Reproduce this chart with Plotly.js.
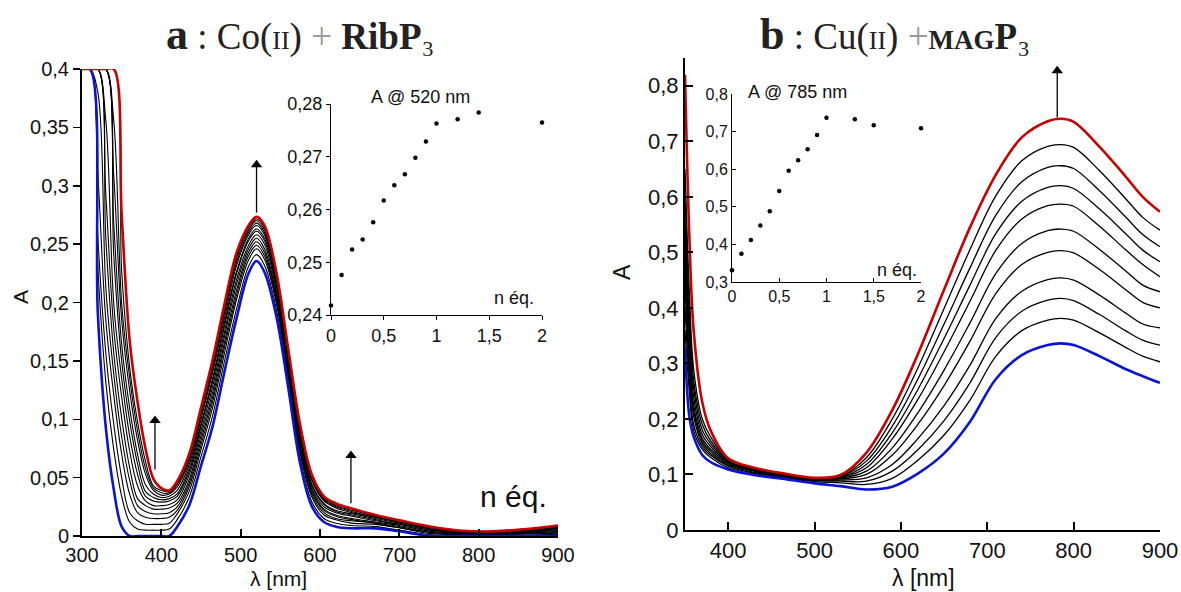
<!DOCTYPE html>
<html>
<head>
<meta charset="utf-8">
<script src="https://cdn.plot.ly/plotly-3.0.1.min.js"></script>
<style>html,body{margin:0;padding:0;background:#fff}</style>
</head>
<body>
<div id="chart" style="width:1181px;height:592px"></div>
<script>
// ---------- Panel a : Co(II) + RibP3, spectra (A vs λ) ----------
const wlA = [300, 310, 320, 330, 340, 350, 360, 370, 380, 390, 400, 410, 420, 435, 450, 465, 480, 495, 510, 520, 530, 545, 560, 575, 590, 605, 620, 640, 670, 700, 740, 780, 820, 860, 900];
const coA_n00 = [0.4, 0.4, 0.19, 0.093, 0.04, 0.008, 0, 0, 0, 0, 0, 0, 0.008, 0.026, 0.06, 0.095, 0.142, 0.187, 0.225, 0.2355, 0.226, 0.188, 0.127, 0.062, 0.025, 0.012, 0.008, 0.0066, 0.0065, 0.004, 0, 0, 0, 0, 0];
const coA_n01 = [0.4, 0.4, 0.23, 0.132, 0.074, 0.034, 0.012, 0.006, 0.005, 0.005, 0.005, 0.006, 0.014, 0.033, 0.068, 0.104, 0.151, 0.195, 0.231, 0.241, 0.232, 0.194, 0.132, 0.067, 0.029, 0.015, 0.011, 0.009, 0.008, 0.005, 0.001, 0.0007, 0.0006, 0.0009, 0.0014];
const coA_n02 = [0.4, 0.4, 0.255, 0.157, 0.096, 0.05, 0.02, 0.013, 0.010, 0.010, 0.010, 0.011, 0.019, 0.038, 0.074, 0.111, 0.158, 0.203, 0.2365, 0.246, 0.237, 0.199, 0.136, 0.071, 0.033, 0.018, 0.014, 0.011, 0.010, 0.007, 0.002, 0.0013, 0.0011, 0.0017, 0.0025];
const coA_n03 = [0.4, 0.4, 0.309, 0.185, 0.121, 0.070, 0.036, 0.020, 0.016, 0.015, 0.015, 0.016, 0.022, 0.042, 0.078, 0.116, 0.163, 0.207, 0.240, 0.249, 0.240, 0.202, 0.139, 0.074, 0.035, 0.020, 0.015, 0.013, 0.011, 0.007, 0.003, 0.0016, 0.0014, 0.0022, 0.0032];
const coA_n04 = [0.4, 0.4, 0.38, 0.213, 0.139, 0.085, 0.048, 0.026, 0.021, 0.019, 0.019, 0.020, 0.025, 0.045, 0.082, 0.120, 0.167, 0.211, 0.243, 0.252, 0.243, 0.204, 0.141, 0.076, 0.037, 0.022, 0.017, 0.014, 0.011, 0.008, 0.003, 0.0019, 0.0017, 0.0026, 0.0039];
const coA_n05 = [0.4, 0.4, 0.4, 0.255, 0.157, 0.101, 0.059, 0.032, 0.026, 0.023, 0.023, 0.024, 0.028, 0.048, 0.086, 0.124, 0.172, 0.216, 0.246, 0.255, 0.246, 0.207, 0.144, 0.079, 0.039, 0.023, 0.018, 0.015, 0.012, 0.009, 0.004, 0.0023, 0.002, 0.0031, 0.0046];
const coA_n06 = [0.4, 0.4, 0.4, 0.293, 0.178, 0.119, 0.073, 0.043, 0.030, 0.026, 0.026, 0.027, 0.031, 0.052, 0.090, 0.129, 0.176, 0.220, 0.249, 0.258, 0.250, 0.210, 0.147, 0.082, 0.041, 0.025, 0.020, 0.017, 0.013, 0.010, 0.005, 0.0027, 0.0024, 0.0035, 0.0053];
const coA_n07 = [0.4, 0.4, 0.4, 0.356, 0.199, 0.135, 0.086, 0.053, 0.034, 0.030, 0.029, 0.030, 0.034, 0.055, 0.094, 0.133, 0.181, 0.225, 0.253, 0.261, 0.253, 0.214, 0.149, 0.084, 0.043, 0.027, 0.021, 0.018, 0.014, 0.010, 0.005, 0.003, 0.0027, 0.004, 0.006];
const coA_n08 = [0.4, 0.4, 0.4, 0.4, 0.241, 0.150, 0.099, 0.062, 0.038, 0.033, 0.031, 0.032, 0.036, 0.058, 0.096, 0.136, 0.184, 0.227, 0.255, 0.263, 0.255, 0.215, 0.151, 0.086, 0.044, 0.028, 0.022, 0.019, 0.015, 0.011, 0.006, 0.0032, 0.0029, 0.0043, 0.0065];
const coA_n09 = [0.4, 0.4, 0.4, 0.4, 0.268, 0.164, 0.110, 0.070, 0.044, 0.036, 0.033, 0.034, 0.039, 0.061, 0.100, 0.141, 0.188, 0.232, 0.258, 0.266, 0.258, 0.218, 0.153, 0.088, 0.047, 0.030, 0.024, 0.020, 0.016, 0.012, 0.006, 0.0036, 0.0032, 0.0048, 0.0072];
const coA_n10 = [0.4, 0.4, 0.4, 0.4, 0.309, 0.185, 0.125, 0.082, 0.053, 0.039, 0.035, 0.036, 0.042, 0.064, 0.103, 0.144, 0.192, 0.235, 0.260, 0.268, 0.260, 0.221, 0.155, 0.090, 0.048, 0.031, 0.025, 0.021, 0.016, 0.012, 0.007, 0.0039, 0.0034, 0.0052, 0.0077];
const coA_n12 = [0.4, 0.4, 0.4, 0.4, 0.356, 0.199, 0.136, 0.090, 0.058, 0.041, 0.037, 0.037, 0.044, 0.066, 0.106, 0.147, 0.195, 0.238, 0.262, 0.270, 0.262, 0.223, 0.157, 0.092, 0.050, 0.032, 0.026, 0.022, 0.017, 0.013, 0.007, 0.0041, 0.0036, 0.0055, 0.0082];
const coA_n14 = [0.4, 0.4, 0.4, 0.4, 0.4, 0.227, 0.145, 0.098, 0.064, 0.043, 0.039, 0.038, 0.045, 0.068, 0.108, 0.149, 0.197, 0.240, 0.264, 0.2715, 0.264, 0.224, 0.158, 0.093, 0.051, 0.033, 0.027, 0.023, 0.017, 0.013, 0.008, 0.0043, 0.0038, 0.0057, 0.0086];
const coA_n20 = [0.4, 0.4, 0.4, 0.4, 0.4, 0.275, 0.168, 0.115, 0.075, 0.049, 0.041, 0.039, 0.047, 0.070, 0.110, 0.152, 0.200, 0.243, 0.266, 0.2735, 0.266, 0.226, 0.160, 0.095, 0.052, 0.034, 0.028, 0.0235, 0.018, 0.0135, 0.008, 0.0045, 0.004, 0.006, 0.009];

// inset a : A @ 520 nm vs n éq.
const nEqA = [0, 0.1, 0.2, 0.3, 0.4, 0.5, 0.6, 0.7, 0.8, 0.9, 1.0, 1.2, 1.4, 2.0];
const abs520 = [0.2418, 0.2476, 0.2524, 0.2543, 0.2576, 0.2617, 0.2646, 0.2667, 0.2698, 0.2729, 0.2763, 0.2771, 0.2784, 0.2765];

// arrows of panel a (wavelength, from A, to A)
const arrowA_wl = [392, 520, 639];
const arrowA_from = [0.057, 0.277, 0.028];
const arrowA_to = [0.104, 0.323, 0.074];

// ---------- Panel b : Cu(II) + MAGP3 ----------
const wlB = [350, 355, 360, 370, 380, 400, 430, 460, 500, 530, 560, 590, 620, 650, 680, 710, 740, 770, 785, 800, 830, 860, 880, 900];
const cuB_n00 = [0.33, 0.205, 0.168, 0.135, 0.122, 0.109, 0.099, 0.093, 0.084, 0.079, 0.073, 0.078, 0.102, 0.138, 0.195, 0.272, 0.315, 0.333, 0.336, 0.333, 0.313, 0.290, 0.277, 0.265];
const cuB_n01 = [0.36, 0.25, 0.18, 0.145, 0.130, 0.112, 0.100, 0.094, 0.087, 0.085, 0.082, 0.093, 0.126, 0.171, 0.234, 0.313, 0.359, 0.378, 0.381, 0.378, 0.355, 0.329, 0.313, 0.303];
const cuB_n02 = [0.40, 0.27, 0.19, 0.150, 0.134, 0.115, 0.102, 0.095, 0.089, 0.088, 0.088, 0.106, 0.145, 0.197, 0.265, 0.347, 0.394, 0.414, 0.417, 0.413, 0.388, 0.359, 0.342, 0.333];
const cuB_n03 = [0.44, 0.29, 0.205, 0.155, 0.137, 0.117, 0.104, 0.096, 0.090, 0.090, 0.094, 0.118, 0.165, 0.224, 0.297, 0.381, 0.430, 0.451, 0.454, 0.450, 0.423, 0.391, 0.371, 0.364];
const cuB_n04 = [0.47, 0.31, 0.215, 0.160, 0.141, 0.119, 0.106, 0.097, 0.091, 0.092, 0.100, 0.135, 0.191, 0.260, 0.340, 0.426, 0.478, 0.500, 0.503, 0.499, 0.469, 0.433, 0.410, 0.400];
const cuB_n05 = [0.50, 0.33, 0.225, 0.165, 0.145, 0.121, 0.107, 0.098, 0.092, 0.093, 0.106, 0.148, 0.212, 0.288, 0.373, 0.462, 0.516, 0.539, 0.542, 0.538, 0.505, 0.467, 0.441, 0.429];
const cuB_n06 = [0.53, 0.35, 0.24, 0.172, 0.150, 0.122, 0.108, 0.099, 0.092, 0.094, 0.112, 0.164, 0.236, 0.321, 0.412, 0.504, 0.560, 0.584, 0.587, 0.583, 0.547, 0.505, 0.478, 0.456];
const cuB_n07 = [0.56, 0.37, 0.255, 0.180, 0.155, 0.123, 0.109, 0.100, 0.093, 0.095, 0.118, 0.175, 0.254, 0.345, 0.441, 0.534, 0.592, 0.617, 0.620, 0.615, 0.578, 0.534, 0.504, 0.483];
const cuB_n08 = [0.60, 0.40, 0.27, 0.190, 0.160, 0.125, 0.110, 0.101, 0.093, 0.096, 0.124, 0.187, 0.273, 0.371, 0.472, 0.567, 0.627, 0.653, 0.656, 0.651, 0.611, 0.564, 0.532, 0.510];
const cuB_n09 = [0.65, 0.43, 0.29, 0.200, 0.167, 0.127, 0.111, 0.102, 0.094, 0.097, 0.130, 0.200, 0.293, 0.399, 0.505, 0.602, 0.665, 0.691, 0.694, 0.689, 0.647, 0.597, 0.563, 0.540];
const cuB_n10 = [0.82, 0.53, 0.36, 0.23, 0.178, 0.129, 0.112, 0.103, 0.094, 0.099, 0.139, 0.216, 0.318, 0.433, 0.545, 0.640, 0.707, 0.736, 0.7405, 0.735, 0.69, 0.637, 0.60, 0.573];

// inset b : A @ 785 nm vs n éq.
const nEqB = [0, 0.1, 0.2, 0.3, 0.4, 0.5, 0.6, 0.7, 0.8, 0.9, 1.0, 1.3, 1.5, 2.0];
const abs785 = [0.331, 0.375, 0.412, 0.450, 0.488, 0.542, 0.596, 0.624, 0.653, 0.691, 0.737, 0.733, 0.717, 0.709];

// arrow of panel b
const arrowB_wl = [781];
const arrowB_from = [0.743];
const arrowB_to = [0.838];

// ---------- styling ----------
const BLUE = '#0a14d2', RED = '#c80000', BLACK = '#000000';
const FONT = 'Liberation Sans, Arial, sans-serif';
const SERIF = 'Liberation Serif, DejaVu Serif, serif';
const W = 1181, H = 592;
const px = v => v / W, py = v => 1 - v / H;

const traces = [];
function spec(x, y, xa, ya, color, width, name) {
  traces.push({type: 'scatter', mode: 'lines', x: x, y: y, xaxis: xa, yaxis: ya, name: name,
    line: {color: color, width: width, shape: 'spline', smoothing: 1}, hoverinfo: 'x+y'});
}
const blackA = [coA_n01, coA_n02, coA_n03, coA_n04, coA_n05, coA_n06, coA_n07, coA_n08, coA_n09, coA_n10, coA_n12, coA_n14];
const blackALabels = ['0.1', '0.2', '0.3', '0.4', '0.5', '0.6', '0.7', '0.8', '0.9', '1.0', '1.2', '1.4'];
blackA.forEach((s, i) => spec(wlA, s, 'x', 'y', BLACK, 1.1, 'a n=' + blackALabels[i]));
spec(wlA, coA_n00, 'x', 'y', BLUE, 2.6, 'a n=0');
spec(wlA, coA_n20, 'x', 'y', RED, 2.6, 'a n=2');

const blackB = [cuB_n01, cuB_n02, cuB_n03, cuB_n04, cuB_n05, cuB_n06, cuB_n07, cuB_n08, cuB_n09];
blackB.forEach((s, i) => spec(wlB, s, 'x3', 'y3', BLACK, 1.3, 'b n=0.' + (i + 1)));
spec(wlB, cuB_n00, 'x3', 'y3', BLUE, 2.6, 'b n=0');
spec(wlB, cuB_n10, 'x3', 'y3', RED, 2.6, 'b n=1');

traces.push({type: 'scatter', mode: 'markers', x: nEqA, y: abs520, xaxis: 'x2', yaxis: 'y2', cliponaxis: false,
  marker: {color: BLACK, size: 4.5}, name: 'A @ 520 nm'});
traces.push({type: 'scatter', mode: 'markers', x: nEqB, y: abs785, xaxis: 'x4', yaxis: 'y4', cliponaxis: false,
  marker: {color: BLACK, size: 4.5}, name: 'A @ 785 nm'});

// arrows: shafts as shapes, heads as triangle markers
const shapes = [];
function arrows(wl, from, to, xa, ya, headOffset) {
  wl.forEach((w, i) => {
    shapes.push({type: 'line', xref: xa, yref: ya, x0: w, x1: w, y0: from[i], y1: to[i] - headOffset,
      line: {color: '#000', width: 1.3}});
  });
  traces.push({type: 'scatter', mode: 'markers', x: wl, y: to.map(v => v - headOffset), xaxis: xa, yaxis: ya,
    cliponaxis: false, hoverinfo: 'skip', name: 'arrow',
    marker: {symbol: 'triangle-up', size: 10, color: '#000', line: {width: 0}}});
}
arrows(arrowA_wl, arrowA_from, arrowA_to, 'x', 'y', 0.005);
arrows(arrowB_wl, arrowB_from, arrowB_to, 'x3', 'y3', 0.011);

function ax(o) {
  return Object.assign({showgrid: false, zeroline: false, showline: true, linecolor: '#000', tickcolor: '#000',
    tickfont: {family: FONT, size: 20, color: '#111'}, fixedrange: true}, o);
}
const txt = (x, y, text, size, extra) => Object.assign({xref: 'paper', yref: 'paper', x: px(x), y: py(y), text: text,
  showarrow: false, xanchor: 'center', yanchor: 'middle', font: {family: FONT, size: size, color: '#111'}}, extra || {});

const layout = {
  width: W, height: H, margin: {l: 0, r: 0, t: 0, b: 0}, showlegend: false,
  paper_bgcolor: '#fff', plot_bgcolor: 'rgba(0,0,0,0)', separators: ', ',
  xaxis: ax({domain: [px(82), px(558)], range: [300, 900], dtick: 100, ticks: 'inside', ticklen: 7, linewidth: 2, tickwidth: 2, anchor: 'y'}),
  yaxis: ax({domain: [py(536), py(69)], range: [0, 0.4], dtick: 0.05, ticks: 'outside', ticklen: 7, linewidth: 2, tickwidth: 1.5, anchor: 'x'}),
  xaxis2: ax({domain: [px(331), px(542)], range: [0, 2], dtick: 0.5, ticks: 'outside', ticklen: 4, linewidth: 1, tickwidth: 1, anchor: 'y2',
    tickfont: {family: FONT, size: 18, color: '#111'}}),
  yaxis2: ax({domain: [py(315), py(104)], range: [0.24, 0.28], dtick: 0.01, ticks: 'outside', ticklen: 4, linewidth: 1, tickwidth: 1, anchor: 'x2',
    tickfont: {family: FONT, size: 18, color: '#111'}}),
  xaxis3: ax({domain: [px(685), px(1160)], range: [350, 900], dtick: 100, tick0: 0, ticks: 'inside', ticklen: 8, linewidth: 2, tickwidth: 2, anchor: 'y3',
    tickfont: {family: FONT, size: 22, color: '#111'}}),
  yaxis3: ax({domain: [py(530), py(58)], range: [0, 0.85], dtick: 0.1, ticks: 'inside', ticklen: 8, linewidth: 2, tickwidth: 2, anchor: 'x3',
    tickfont: {family: FONT, size: 22, color: '#111'}}),
  xaxis4: ax({domain: [px(732), px(921)], range: [0, 2], dtick: 0.5, ticks: 'inside', ticklen: 4, linewidth: 1, tickwidth: 1, anchor: 'y4',
    tickfont: {family: FONT, size: 16, color: '#111'}}),
  yaxis4: ax({domain: [py(282), py(94)], range: [0.3, 0.8], dtick: 0.1, ticks: 'inside', ticklen: 4, linewidth: 1, tickwidth: 1, anchor: 'x4',
    tickfont: {family: FONT, size: 16, color: '#111'}}),
  shapes: shapes,
  annotations: [
    txt(300, 34, '<span style="font-size:44px"><b>a</b></span> : Co(<span style="font-size:26px">II</span>) <span style="color:#9a9a9a">+</span> <b>RibP</b>₃', 37, {font: {family: SERIF, size: 37, color: '#222'}}),
    txt(895, 34, '<span style="font-size:44px"><b>b</b></span> : Cu(<span style="font-size:26px">II</span>) <span style="color:#9a9a9a">+</span><b><span style="font-size:27px">MAG</span>P</b>₃', 37, {font: {family: SERIF, size: 37, color: '#222'}}),
    txt(20, 297, 'A', 21, {textangle: -90}),
    txt(278, 578, 'λ [nm]', 21),
    txt(622, 272, 'A', 23, {textangle: -90}),
    txt(923, 578, 'λ [nm]', 23),
    txt(420, 97, 'A @ 520 nm', 18),
    txt(514, 298, 'n éq.', 18),
    txt(797, 92, 'A @ 785 nm', 18),
    txt(897, 270, 'n éq.', 18),
    txt(513, 496, 'n éq.', 30)
  ]
};

Plotly.newPlot('chart', traces, layout, {displayModeBar: false, staticPlot: true});
</script>
</body>
</html>
